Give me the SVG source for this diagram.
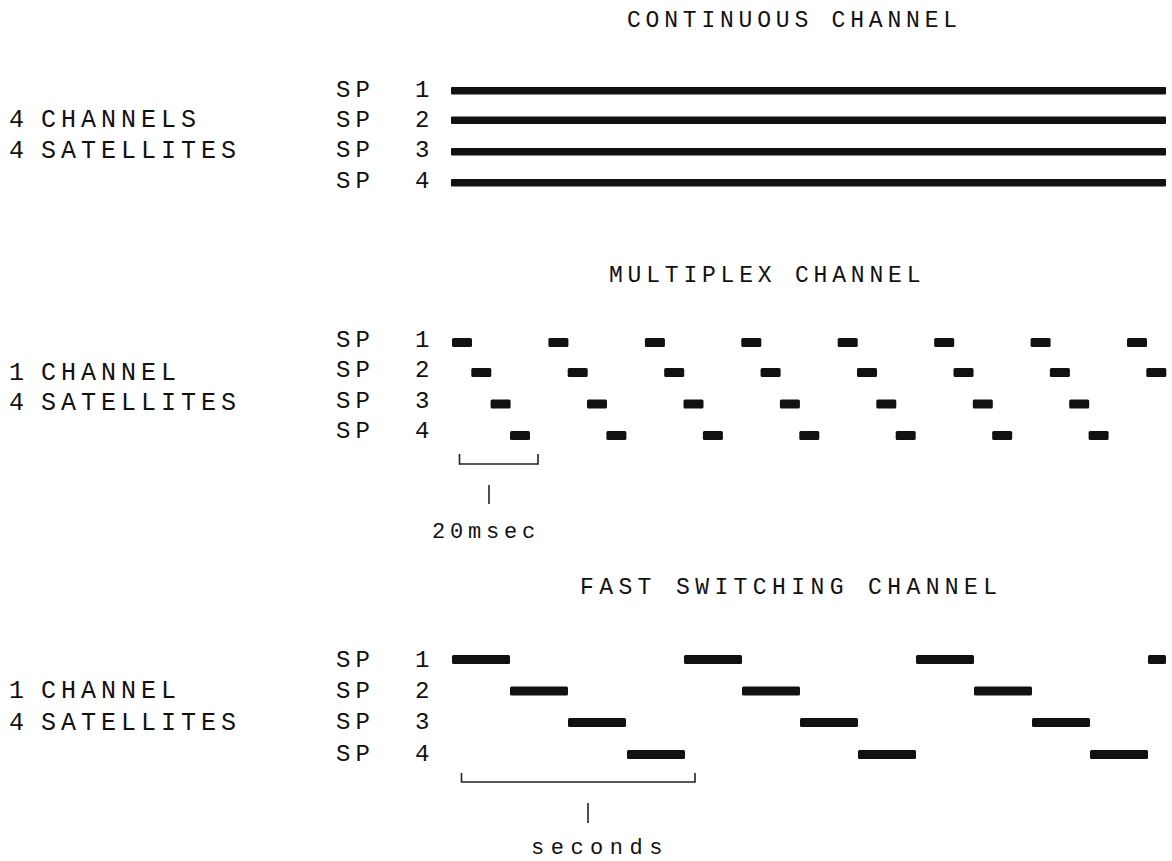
<svg xmlns="http://www.w3.org/2000/svg" width="1172" height="861" viewBox="0 0 1172 861">
  <style>
    text { font-family: "Liberation Mono", "DejaVu Sans Mono", monospace; fill: #111; }
    .title { font-size: 23px; letter-spacing: 4.8px; }
    .lbl { font-size: 25px; letter-spacing: 5px; }
    .sp { font-size: 24px; letter-spacing: 5.2px; }
    .unit { font-size: 22px; letter-spacing: 4.8px; }
    .bar { fill: #111; }
    .brk { fill: none; stroke: #222; stroke-width: 1.6; }
  </style>

  <!-- Continuous channel -->
  <g id="continuous">
    <text class="title" x="627" y="27">CONTINUOUS CHANNEL</text>
    <text class="lbl" y="127"><tspan x="9">4</tspan><tspan x="41">CHANNELS</tspan></text>
    <text class="lbl" y="158"><tspan x="9">4</tspan><tspan x="41">SATELLITES</tspan></text>
    <g id="cont-sp1"><text class="sp" y="97"><tspan x="336">SP</tspan><tspan x="415">1</tspan></text><rect class="bar" x="451" y="87" width="715" height="7.5" rx="1"/></g>
    <g id="cont-sp2"><text class="sp" y="127"><tspan x="336">SP</tspan><tspan x="415">2</tspan></text><rect class="bar" x="451" y="116.5" width="715" height="7.5" rx="1"/></g>
    <g id="cont-sp3"><text class="sp" y="157"><tspan x="336">SP</tspan><tspan x="415">3</tspan></text><rect class="bar" x="451" y="148" width="715" height="7.5" rx="1"/></g>
    <g id="cont-sp4"><text class="sp" y="188"><tspan x="336">SP</tspan><tspan x="415">4</tspan></text><rect class="bar" x="451" y="179" width="715" height="7.5" rx="1"/></g>
  </g>

  <!-- Multiplex channel: 20 px slots, one frame every 96.4 px -->
  <g id="multiplex">
    <text class="title" x="609" y="282">MULTIPLEX CHANNEL</text>
    <text class="lbl" y="380"><tspan x="9">1</tspan><tspan x="41">CHANNEL</tspan></text>
    <text class="lbl" y="410"><tspan x="9">4</tspan><tspan x="41">SATELLITES</tspan></text>
    <g id="mux-sp1">
      <text class="sp" y="347"><tspan x="336">SP</tspan><tspan x="415">1</tspan></text>
      <rect class="bar" x="452" y="338" width="20" height="9" rx="1.5"/>
      <rect class="bar" x="548.4" y="338" width="20" height="9" rx="1.5"/>
      <rect class="bar" x="644.9" y="338" width="20" height="9" rx="1.5"/>
      <rect class="bar" x="741.3" y="338" width="20" height="9" rx="1.5"/>
      <rect class="bar" x="837.7" y="338" width="20" height="9" rx="1.5"/>
      <rect class="bar" x="934.2" y="338" width="20" height="9" rx="1.5"/>
      <rect class="bar" x="1030.6" y="338" width="20" height="9" rx="1.5"/>
      <rect class="bar" x="1127" y="338" width="20" height="9" rx="1.5"/>
    </g>
    <g id="mux-sp2">
      <text class="sp" y="377"><tspan x="336">SP</tspan><tspan x="415">2</tspan></text>
      <rect class="bar" x="471.3" y="368" width="20" height="9" rx="1.5"/>
      <rect class="bar" x="567.7" y="368" width="20" height="9" rx="1.5"/>
      <rect class="bar" x="664.2" y="368" width="20" height="9" rx="1.5"/>
      <rect class="bar" x="760.6" y="368" width="20" height="9" rx="1.5"/>
      <rect class="bar" x="857" y="368" width="20" height="9" rx="1.5"/>
      <rect class="bar" x="953.5" y="368" width="20" height="9" rx="1.5"/>
      <rect class="bar" x="1049.9" y="368" width="20" height="9" rx="1.5"/>
      <rect class="bar" x="1146.3" y="368" width="20" height="9" rx="1.5"/>
    </g>
    <g id="mux-sp3">
      <text class="sp" y="408"><tspan x="336">SP</tspan><tspan x="415">3</tspan></text>
      <rect class="bar" x="490.6" y="399.5" width="20" height="9" rx="1.5"/>
      <rect class="bar" x="587" y="399.5" width="20" height="9" rx="1.5"/>
      <rect class="bar" x="683.5" y="399.5" width="20" height="9" rx="1.5"/>
      <rect class="bar" x="779.9" y="399.5" width="20" height="9" rx="1.5"/>
      <rect class="bar" x="876.3" y="399.5" width="20" height="9" rx="1.5"/>
      <rect class="bar" x="972.8" y="399.5" width="20" height="9" rx="1.5"/>
      <rect class="bar" x="1069.2" y="399.5" width="20" height="9" rx="1.5"/>
    </g>
    <g id="mux-sp4">
      <text class="sp" y="438"><tspan x="336">SP</tspan><tspan x="415">4</tspan></text>
      <rect class="bar" x="510" y="431" width="20" height="9" rx="1.5"/>
      <rect class="bar" x="606.4" y="431" width="20" height="9" rx="1.5"/>
      <rect class="bar" x="702.9" y="431" width="20" height="9" rx="1.5"/>
      <rect class="bar" x="799.3" y="431" width="20" height="9" rx="1.5"/>
      <rect class="bar" x="895.7" y="431" width="20" height="9" rx="1.5"/>
      <rect class="bar" x="992.2" y="431" width="20" height="9" rx="1.5"/>
      <rect class="bar" x="1088.6" y="431" width="20" height="9" rx="1.5"/>
    </g>
    <text class="unit" x="432" y="538">20msec</text>
  </g>

  <!-- Fast switching channel: 58 px slots, one frame every 232 px -->
  <g id="fast-switching">
    <text class="title" x="580" y="594" style="letter-spacing:5.4px">FAST SWITCHING CHANNEL</text>
    <text class="lbl" y="698"><tspan x="9">1</tspan><tspan x="41">CHANNEL</tspan></text>
    <text class="lbl" y="730"><tspan x="9">4</tspan><tspan x="41">SATELLITES</tspan></text>
    <g id="fast-sp1">
      <text class="sp" y="667"><tspan x="336">SP</tspan><tspan x="415">1</tspan></text>
      <rect class="bar" x="452" y="655" width="58" height="9" rx="1.5"/>
      <rect class="bar" x="684" y="655" width="58" height="9" rx="1.5"/>
      <rect class="bar" x="916" y="655" width="58" height="9" rx="1.5"/>
      <rect class="bar" x="1148" y="655" width="18" height="9" rx="1.5"/>
    </g>
    <g id="fast-sp2">
      <text class="sp" y="698"><tspan x="336">SP</tspan><tspan x="415">2</tspan></text>
      <rect class="bar" x="510" y="686.5" width="58" height="9" rx="1.5"/>
      <rect class="bar" x="742" y="686.5" width="58" height="9" rx="1.5"/>
      <rect class="bar" x="974" y="686.5" width="58" height="9" rx="1.5"/>
    </g>
    <g id="fast-sp3">
      <text class="sp" y="729"><tspan x="336">SP</tspan><tspan x="415">3</tspan></text>
      <rect class="bar" x="568" y="718" width="58" height="9" rx="1.5"/>
      <rect class="bar" x="800" y="718" width="58" height="9" rx="1.5"/>
      <rect class="bar" x="1032" y="718" width="58" height="9" rx="1.5"/>
    </g>
    <g id="fast-sp4">
      <text class="sp" y="761"><tspan x="336">SP</tspan><tspan x="415">4</tspan></text>
      <rect class="bar" x="627" y="750" width="58" height="9" rx="1.5"/>
      <rect class="bar" x="858" y="750" width="58" height="9" rx="1.5"/>
      <rect class="bar" x="1090" y="750" width="58" height="9" rx="1.5"/>
    </g>
    <text class="unit" x="531" y="854" style="letter-spacing:6.5px">seconds</text>
  </g>

  <!-- Period brackets with centre ticks -->
  <g id="connectors">
    <path class="brk" d="M459.5 454 V464 H538 V454"/>
    <path class="brk" d="M489 485 V504"/>
    <path class="brk" d="M461.5 773 V782 H695 V773"/>
    <path class="brk" d="M588 803 V823"/>
  </g>
</svg>
